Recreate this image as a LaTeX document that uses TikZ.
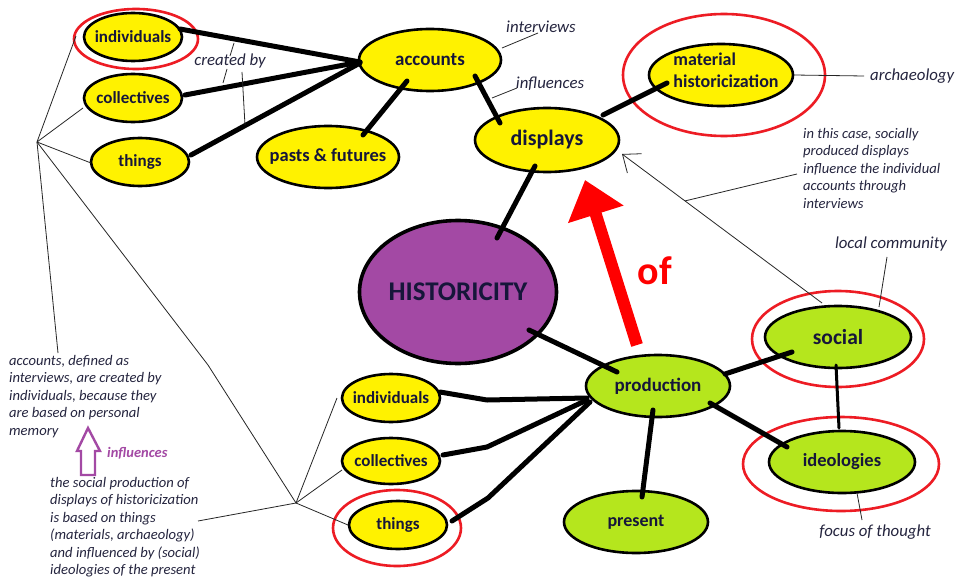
\documentclass[tikz,border=0pt]{standalone}
\usepackage{fontspec}
\setmainfont{Carlito}
\usetikzlibrary{shapes.geometric,arrows.meta,calc}
\definecolor{yel}{HTML}{FFF200}
\definecolor{grn}{HTML}{B5E61D}
\definecolor{pur}{HTML}{A349A4}
\definecolor{ringred}{HTML}{ED1C24}
\definecolor{navy}{HTML}{16163A}
\definecolor{annot}{HTML}{25253F}
\newcommand{\fsz}[2]{\fontsize{#1}{#2}\selectfont}
\begin{document}
\begin{tikzpicture}[x=1pt,y=-1pt,
  bub/.style={ellipse, draw=black, line width=2.6pt, inner sep=0pt, text=navy},
  ybub/.style={bub, fill=yel},
  gbub/.style={bub, fill=grn},
  fs/.style={font=\bfseries\fsz{#1}{#1}},
  con/.style={line width=5pt, line cap=round, line join=round},
  fine/.style={line width=0.8pt, draw=black!85},
  ring/.style={draw=ringred, line width=2.6pt},
  ann/.style={font=\itshape\fsz{16.8}{18}, text=annot, inner sep=0pt},
  note/.style={font=\itshape\fsz{14.6}{17.5}, text=annot, align=left, inner sep=0pt, anchor=north west},
]
\useasboundingbox[fill=white] (0,0) rectangle (960,583);

% ---------------- nodes ----------------
\node[ybub, minimum width=98pt, minimum height=48pt, fs=17] (indT) at (133,37) {\makebox[0pt]{individuals}};
\node[ybub, minimum width=98pt, minimum height=48pt, fs=17] (colT) at (133,98) {\makebox[0pt]{collectives}};
\node[ybub, minimum width=98pt, minimum height=48pt, fs=17] (thT) at (140,162) {\makebox[0pt]{things}};
\node[ybub, minimum width=142pt, minimum height=62pt, fs=19] (acc) at (430,60) {\makebox[0pt]{accounts}};
\node[ybub, minimum width=142pt, minimum height=62pt, fs=18.5] (past) at (328,157) {\makebox[0pt]{pasts \& futures}};
\node[ybub, minimum width=144pt, minimum height=64pt, fs=22] (disp) at (547,140) {\makebox[0pt]{displays}};
\node[ybub, minimum width=144pt, minimum height=62pt] (mat) at (721,75) {};
\node[font=\bfseries\fsz{18}{22}, text=navy, align=left, inner sep=0pt] (matT) at (726,70) {material\\historicization};
\node[bub, fill=pur, line width=3.6pt, minimum width=197pt, minimum height=143pt, fs=27] (hist) at (458,292) {\makebox[0pt]{HISTORICITY}};
\node[gbub, minimum width=144pt, minimum height=62pt, fs=19] (prod) at (658,386) {\makebox[0pt]{production}};
\node[gbub, minimum width=144pt, minimum height=62pt, fs=18] (pres) at (636,522) {\makebox[0pt]{present}};
\node[gbub, minimum width=146pt, minimum height=62pt, fs=21.5] (soc) at (838,337) {\makebox[0pt]{social}};
\node[gbub, minimum width=146pt, minimum height=62pt, fs=18.5] (ideo) at (842,462) {\makebox[0pt]{ideologies}};
\node[ybub, minimum width=98pt, minimum height=48pt, fs=17] (indB) at (391,398) {\makebox[0pt]{individuals}};
\node[ybub, minimum width=98pt, minimum height=46pt, fs=17] (colB) at (391,461) {\makebox[0pt]{collectives}};
\node[ybub, minimum width=98pt, minimum height=48pt, fs=17] (thB) at (398,525) {\makebox[0pt]{things}};

% ---------------- red rings ----------------
\draw[ring] ($(indT)+(3,2)$) ellipse [x radius=62, y radius=30];
\draw[ring] ($(mat)+(3,0)$) ellipse [x radius=101, y radius=61];
\draw[ring] ($(soc)+(0,2)$) ellipse [x radius=86, y radius=48];
\draw[ring] ($(ideo)+(-1,2)$) ellipse [x radius=98, y radius=47];
\draw[ring] ($(thB)+(-1,3)$) ellipse [x radius=64, y radius=38];

% ---------------- thick connectors ----------------
\draw[con] ($(indT)+(47,-8)$) -- ($(acc)+(-70,2)$);
\draw[con] ($(colT)+(52,-3)$) -- ($(acc)+(-70,2)$);
\draw[con] ($(thT)+(51,-7)$) -- ($(acc)+(-70,3)$);
\draw[con] ($(acc)+(-23,21)$) -- ($(past)+(35,-22)$);
\draw[con] ($(acc)+(45,16)$) -- ($(disp)+(-47,-17)$);
\draw[con] ($(disp)+(56,-25)$) -- ($(mat)+(-54,8)$);
\draw[con] ($(disp)+(-12,26)$) -- ($(hist)+(39,-54)$);
\draw[con] ($(hist)+(71,38)$) -- ($(prod)+(-41,-14)$);
\draw[con] ($(indB)+(49,-6)$) -- ($(indB)+(96,2)$) -- ($(prod)+(-71,12)$);
\draw[con] ($(colB)+(52,-6)$) -- ($(colB)+(96,-14)$) -- ($(prod)+(-71,14)$);
\draw[con] ($(thB)+(54,-4)$) -- ($(thB)+(90,-27)$) -- ($(prod)+(-68,16)$);
\draw[con] ($(prod)+(67,-12)$) -- ($(soc)+(-46,15)$);
\draw[con] ($(prod)+(52,17)$) -- ($(ideo)+(-55,-15)$);
\draw[con] ($(prod)+(-5,24)$) -- ($(pres)+(6,-25)$);
\draw[con, line width=3pt] ($(soc)+(-2,28)$) -- ($(ideo)+(-3,-34)$);

% ---------------- red arrow "of" ----------------
\draw[line width=12pt, draw=red, -{Triangle[length=36pt,width=56pt]}] ($(prod)+(-21,-41)$) -- ($(disp)+(38,40)$);
\node[font=\bfseries\fsz{40}{40}, text=red, inner sep=0pt] (ofT) at (655,271) {of};

% ---------------- annotations ----------------
\node[ann] (crb) at (230,61) {created by};
\draw[fine] ($(crb)+(4,-18)$) -- ($(crb)+(0,-5)$);
\draw[fine] ($(crb)+(-3,8)$) -- ($(crb)+(-7,22)$);
\draw[fine] ($(crb)+(12,11)$) -- ($(crb)+(15,64)$);

\node[ann] (intv) at (541,27) {interviews};
\draw[fine] ($(acc)+(72,-12)$) -- ($(intv)+(-3,6)$);
\node[ann] (infl) at (550,84) {influences};
\draw[fine] ($(acc)+(62,38)$) -- ($(infl)+(-33,4)$);
\node[ann, anchor=west] (arch) at (870,76) {archaeology};
\draw[fine] ($(mat)+(73,0)$) -- ($(arch.west)+(-6,0)$);
\node[ann] (lc) at (891,244) {local community};
\draw[fine] ($(lc)+(-4,13)$) -- ($(soc)+(41,-30)$);
\node[ann] (fot) at (875,532) {focus of thought};
\draw[fine] ($(ideo)+(15,31)$) -- ($(fot)+(-13,-12)$);

\node[note] (caseN) at (803,128) {in this case, socially\\produced displays\\influence the individual\\accounts through\\interviews};
\coordinate (arrS) at ($(soc)+(-16,-34)$);
\coordinate (arrE) at ($(disp)+(75,14)$);
\draw[fine, -{Straight Barb[length=15pt,width=24pt]}] (arrS) -- (arrE);
\draw[fine] ($(caseN.north west)+(-6,46)$) -- ($(arrE)!0.315!(arrS)$);

% ---------------- left notes and hubs ----------------
\node[note] (noteA) at (9,355) {accounts, defined as\\interviews, are created by\\individuals, because they\\are based on personal\\memory};
\node[note] (noteB) at (50,477) {the social production of\\displays of historicization\\is based on things\\(materials, archaeology)\\and influenced by (social)\\ideologies of the present};

\coordinate (hubA) at (37,142);
\coordinate (bendA) at (208,365);
\coordinate (hubB) at (296,503);
\draw[fine] (hubA) -- ($(indT)+(-57,-1)$);
\draw[fine] (hubA) -- ($(colT)+(-50,10)$);
\draw[fine] (hubA) -- ($(thT)+(-49,1)$);
\draw[fine] (hubA) -- ($(noteA.north west)+(49,-2)$);
\draw[fine] (hubA) -- (bendA) -- (hubB);
\draw[fine] (hubB) -- ($(indB)+(-54,0)$);
\draw[fine] (hubB) -- ($(colB)+(-49,9)$);
\draw[fine] (hubB) -- ($(thB)+(-50,0)$);
\draw[fine] (hubB) -- ($(noteB.north west)+(148,44)$);

% purple hollow arrow
\draw[draw=pur, line width=2.4pt, line join=miter] (88,428) -- (100,451) -- (95,451) -- (95,475) -- (81,475) -- (81,451) -- (77,451) -- cycle;
\node[font=\bfseries\itshape\fsz{14.5}{16}, text=pur, anchor=west, inner sep=0pt] (inflP) at (107,453) {influences};
\end{tikzpicture}
\end{document}
